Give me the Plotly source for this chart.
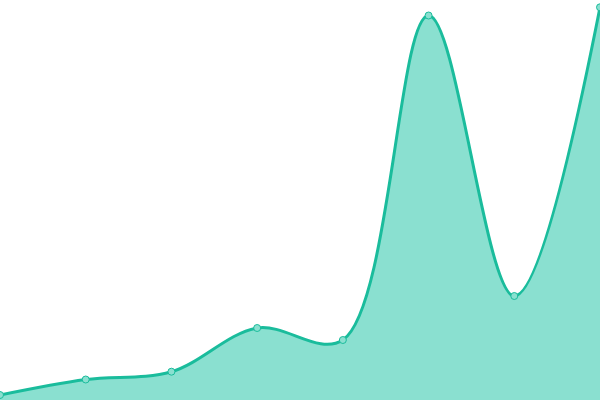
import plotly.graph_objects as go

x_vals = [0, 1, 2, 3, 4, 5, 6, 7]
y_vals = [5, 20.5, 28.3, 72, 60, 384.5, 104, 392.7]

fig = go.Figure()
fig.add_trace(go.Scatter(
    x=x_vals, y=y_vals,
    mode="lines+markers",
    line=dict(color="#1abc9c", width=3, shape="spline", smoothing=1),
    marker=dict(size=7, color="#8ae0d0", line=dict(color="#1abc9c", width=1)),
    fill="tozeroy",
    fillcolor="#8ae0d0",
    cliponaxis=False,
    hoverinfo="skip",
))
fig.update_layout(
    width=600, height=400,
    margin=dict(l=0, r=0, t=0, b=0),
    paper_bgcolor="white", plot_bgcolor="white",
    showlegend=False,
    xaxis=dict(visible=False, range=[0, 7], fixedrange=True),
    yaxis=dict(visible=False, range=[0, 400], fixedrange=True),
)
fig.write_html(
    "out.html",
    config={"displayModeBar": False},
    post_script="document.body.style.margin='0';document.body.style.overflow='hidden';",
)
